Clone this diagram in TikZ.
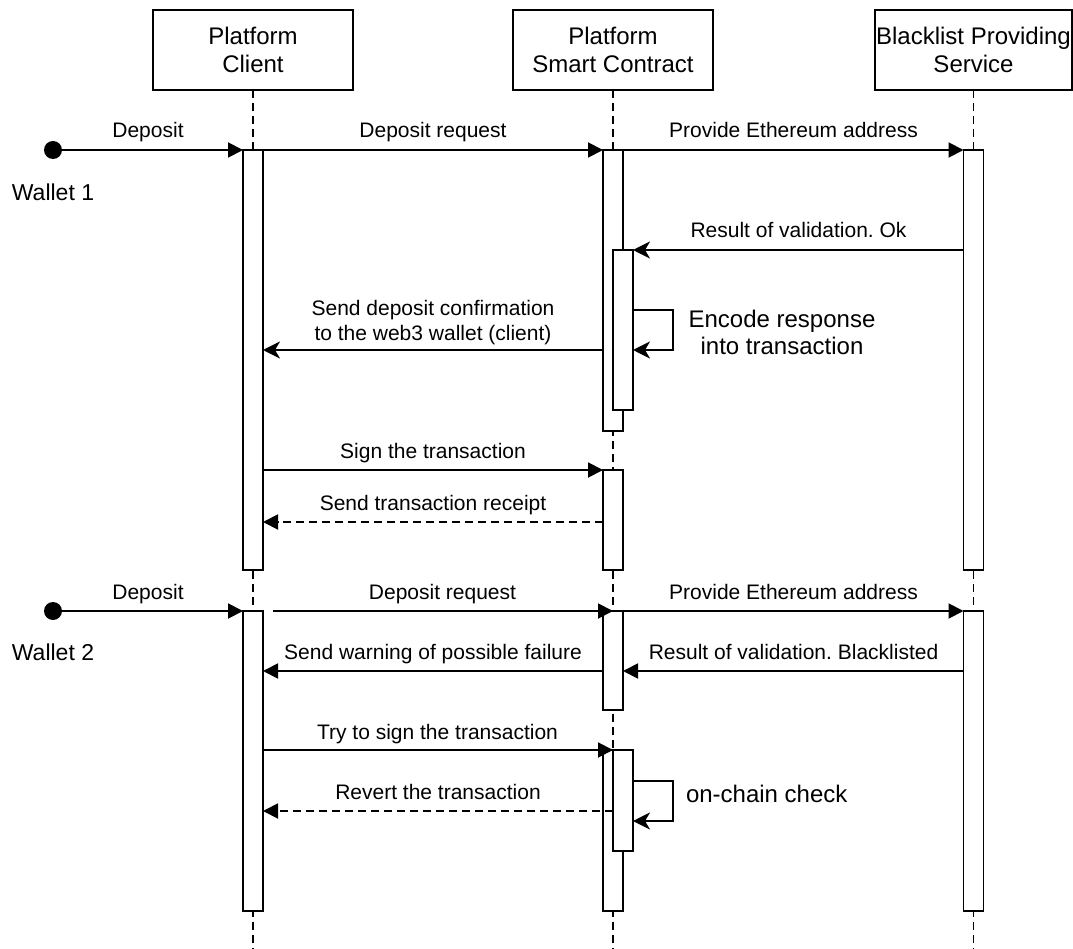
\documentclass[tikz,border=0pt]{standalone}
\usepackage{fontspec}
\setmainfont{Liberation Sans}
\usetikzlibrary{arrows.meta}
\frenchspacing
\begin{document}
\begin{tikzpicture}[x=1pt,y=-1pt,
  every node/.style={inner sep=0pt, outer sep=0pt},
  actor/.style={draw, fill=white, line width=1.9pt, minimum height=80pt, align=center, font=\fontsize{24}{28}\selectfont},
  life/.style={line width=1.9pt, dash pattern=on 8pt off 5pt},
  bar/.style={draw, fill=white, line width=1.9pt, minimum width=20pt},
  msg/.style={line width=1.9pt, -{Triangle[length=15pt,width=15pt]}},
  ret/.style={line width=1.9pt, -{Stealth[length=17pt,width=17pt,inset=5pt]}},
  dret/.style={msg, dash pattern=on 8pt off 5pt},
  lbl/.style={font=\fontsize{21}{25}\selectfont, anchor=base, align=center},
  big/.style={font=\fontsize{24}{27}\selectfont, align=center},
  wal/.style={font=\fontsize{23}{27}\selectfont},
  dot/.style={circle, fill=black, minimum size=18pt}
]
\useasboundingbox (0,0) rectangle (1073,949);

% actors
\node[actor, minimum width=200pt] (hc) at (253,50) {Platform\\Client};
\node[actor, minimum width=200pt] (hs) at (613,50) {Platform\\Smart Contract};
\node[actor, minimum width=197pt] (hb) at (973.5,50) {Blacklist Providing\\Service};

% lifeline ends
\coordinate (ec) at (253,949);
\coordinate (es) at (613,949);
\coordinate (eb) at (973.5,949);
\draw[life] (hc.south) -- (ec);
\draw[life] (hs.south) -- (es);
\draw[life] (hb.south) -- (eb);

% activation bars
\node[bar, minimum height=420pt] (A1) at (253,360) {};
\node[bar, minimum height=300pt] (A2) at (253,761) {};
\node[bar, minimum height=281pt] (B1) at (613,290.5) {};
\node[bar, minimum height=160pt] (B1n) at (623,330) {};
\node[bar, minimum height=100pt] (B2) at (613,520) {};
\node[bar, minimum height=99pt] (B3) at (613,660.5) {};
\node[bar, minimum height=161pt] (B4) at (613,830.5) {};
\node[bar, minimum height=101pt] (B4n) at (623,800.5) {};
\node[bar, minimum height=420pt] (C1) at (973.5,360) {};
\node[bar, minimum height=300pt] (C2) at (973.5,761) {};

% ---- Wallet 1 ----
\node[dot] (w1) at (53,150) {};
\node[wal] (wl1) at (53,192) {Wallet 1};
\draw[msg] (w1.center) -- (A1.north west);
\node[lbl] at (148,138) {Deposit};

\draw[msg] (A1.north east) -- (B1.north west);
\node[lbl] at (433,138) {Deposit request};

\draw[msg] (B1.north east) -- (C1.north west);
\node[lbl] at (793.5,138) {Provide Ethereum address};

\draw[ret] (C1.west |- B1n.north) -- (B1n.north east);
\node[lbl] at (798.5,238) {Result of validation. Ok};

\coordinate (l1a) at (633,310);
\coordinate (l1b) at (633,350);
\draw[ret] (l1a) -- ++(40,0) -- ++(0,40) -- (l1b);
\node[big] (t1) at (782,332) {Encode response\\into transaction};

\draw[ret] (B1.west |- l1b) -- (A1.east |- l1b);
\node[lbl, anchor=south] at (433,344.5) {Send deposit confirmation\\to the web3 wallet (client)};

\draw[msg] (A1.east |- B2.north) -- (B2.north west);
\node[lbl] at (433,458.5) {Sign the transaction};

\coordinate (r1) at (603,522);
\draw[dret] (B2.west |- r1) -- (A1.east |- r1);
\node[lbl] at (433,510.5) {Send transaction receipt};

% ---- Wallet 2 ----
\node[dot] (w2) at (53,611) {};
\node[wal] (wl2) at (53,652) {Wallet 2};
\draw[msg] (w2.center) -- (A2.north west);
\node[lbl] at (148,599) {Deposit};

\draw[msg] ([xshift=10pt]A2.north east) -- (B3.north);
\node[lbl] at (442.5,599) {Deposit request};

\draw[msg] (B3.north east) -- (C2.north west);
\node[lbl] at (793.5,599) {Provide Ethereum address};

\coordinate (r2) at (603,671);
\draw[msg] (C2.west |- r2) -- (B3.east |- r2);
\node[lbl] at (793.5,659.5) {Result of validation. Blacklisted};

\draw[msg] (B3.west |- r2) -- (A2.east |- r2);
\node[lbl] at (433,659.5) {Send warning of possible failure};

\draw[msg] (A2.east |- B4.north) -- (B4.north);
\node[lbl] at (437.5,739) {Try to sign the transaction};

\coordinate (l2a) at (633,781);
\coordinate (l2b) at (633,821);
\draw[ret] (l2a) -- ++(40,0) -- ++(0,40) -- (l2b);
\node[big, anchor=west] (t2) at (686,794) {on-chain check};

\coordinate (r3) at (613,811);
\draw[dret] (B4n.west |- r3) -- (A2.east |- r3);
\node[lbl] at (438,799.5) {Revert the transaction};

\end{tikzpicture}
\end{document}
